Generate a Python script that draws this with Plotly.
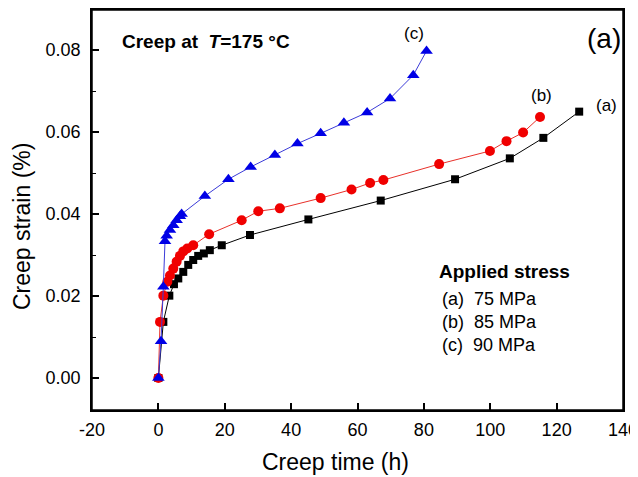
import plotly.graph_objects as go

# Series (a) 75 MPa
xa = [0, 1.5, 3.3, 4.7, 6.0, 7.5, 9.0, 10.5, 12.0, 13.7, 15.5, 19.1, 27.6, 45.2, 67.0, 89.4, 105.9, 116.0, 126.8]
ya = [0, 0.0137, 0.0201, 0.0229, 0.0243, 0.0259, 0.0276, 0.0288, 0.0298, 0.0304, 0.0312, 0.0324, 0.0349, 0.0387, 0.0433, 0.0485, 0.0536, 0.0586, 0.065]
# Series (b) 85 MPa
xb = [0, 0.5, 1.5, 2.7, 3.5, 4.5, 5.5, 6.5, 7.5, 8.7, 10.5, 15.3, 25.1, 30.1, 36.6, 48.9, 58.2, 63.8, 67.8, 84.6, 99.9, 104.9, 109.9, 115.0]
yb = [0, 0.0137, 0.0201, 0.0235, 0.025, 0.0267, 0.0284, 0.0298, 0.0309, 0.0316, 0.0324, 0.0351, 0.0385, 0.0407, 0.0414, 0.0439, 0.046, 0.0476, 0.0483, 0.0522, 0.0554, 0.0578, 0.0599, 0.0637]
# Series (c) 90 MPa
xc = [0, 0.8, 1.5, 2.0, 2.5, 3.5, 4.5, 5.5, 6.5, 7.0, 14.0, 21.1, 27.8, 35.1, 41.9, 48.9, 55.9, 62.9, 69.8, 76.8, 80.8]
yc = [0, 0.009, 0.0223, 0.0334, 0.0347, 0.0361, 0.0373, 0.0385, 0.0395, 0.040, 0.0444, 0.0485, 0.0515, 0.0544, 0.0572, 0.0597, 0.0623, 0.0648, 0.0682, 0.0739, 0.0798]

x_ticks = [-20, 0, 20, 40, 60, 80, 100, 120, 140]
x_labels = ["-20", "0", "20", "40", "60", "80", "100", "120", "140"]
y_ticks = [0.00, 0.02, 0.04, 0.06, 0.08]

FONT = "Liberation Sans, Arial, sans-serif"
OFF = 8  # page body margin
FW, FH = 638, 469
# plot area in page pixels: x 92..623, y 10..410
L, T = 92 - OFF, 10 - OFF
R, B = FW - (623 - OFF), FH - (410 - OFF)
W, H = FW - L - R, FH - T - B

fig = go.Figure()
fig.add_trace(go.Scatter(x=xa, y=ya, mode="lines+markers",
                         line=dict(color="black", width=1),
                         marker=dict(symbol="square", size=8, color="black")))
fig.add_trace(go.Scatter(x=xb, y=yb, mode="lines+markers",
                         line=dict(color="#e8302a", width=1),
                         marker=dict(symbol="circle", size=10, color="#f00000")))
fig.add_trace(go.Scatter(x=xc, y=yc, mode="lines+markers",
                         line=dict(color="#3b3bd8", width=1),
                         marker=dict(symbol="triangle-up", size=11, color="#0000e6")))

fig.update_layout(
    width=FW, height=FH,
    margin=dict(l=L, r=R, t=T, b=B, autoexpand=False),
    paper_bgcolor="white", plot_bgcolor="white",
    showlegend=False,
    font=dict(family=FONT, color="black", size=18),
    xaxis=dict(range=[-20, 140], tickvals=x_ticks, ticktext=x_labels,
               ticks="inside", ticklen=7,
               tickwidth=1.5, tickcolor="black", automargin=False,
               ticklabeloverflow="allow",
               showline=True, linecolor="black", linewidth=1.5, mirror=True,
               showgrid=False, zeroline=False, ticklabelstandoff=3,
               tickfont=dict(size=18)),
    yaxis=dict(range=[-0.0078, 0.0898], tickvals=y_ticks, tickformat=".2f",
               ticks="inside", ticklen=7, tickwidth=1.5, tickcolor="black",
               automargin=False,
               minor=dict(ticks="inside", ticklen=4, tickwidth=1.2, tickcolor="black",
                          tickvals=[0.01, 0.03, 0.05, 0.07]),
               showline=True, linecolor="black", linewidth=1.5, mirror=True,
               showgrid=False, zeroline=False, ticklabelstandoff=6,
               tickfont=dict(size=18)),
)

# frame
fig.add_shape(type="rect", xref="paper", yref="paper", x0=0, x1=1, y0=0, y1=1,
              line=dict(color="black", width=1.5), fillcolor="rgba(0,0,0,0)", layer="above")

# text positions in page pixels
annotations = [
    dict(x=120, y=41, text="<b>Creep at  </b><b><i>T</i></b><b>=175 °C</b>", size=19, xanchor="left"),
    dict(x=604, y=38, text="(a)", size=28, xanchor="center"),
    dict(x=414, y=33, text="(c)", size=17, xanchor="center"),
    dict(x=541, y=95, text="(b)", size=17, xanchor="center"),
    dict(x=606, y=105, text="(a)", size=17, xanchor="center"),
    dict(x=437, y=271, text="<b>Applied stress</b>", size=19, xanchor="left"),
    dict(x=440, y=299, text="(a)  75 MPa", size=18, xanchor="left"),
    dict(x=440, y=322, text="(b)  85 MPa", size=18, xanchor="left"),
    dict(x=440, y=345, text="(c)  90 MPa", size=18, xanchor="left"),
    dict(x=335, y=462, text="Creep time (h)", size=23, xanchor="center"),
    dict(x=22, y=227, text="Creep strain (%)", size=23, xanchor="center", textangle=-90),
]
for a in annotations:
    px, py, fs = a.pop("x") - OFF, a.pop("y") - OFF, a.pop("size")
    fig.add_annotation(x=(px - L) / W, y=1 - (py - T) / H, xref="paper", yref="paper",
                       yanchor="middle", showarrow=False,
                       font=dict(family=FONT, size=fs, color="black"), **a)

fig.write_html("out.html")
